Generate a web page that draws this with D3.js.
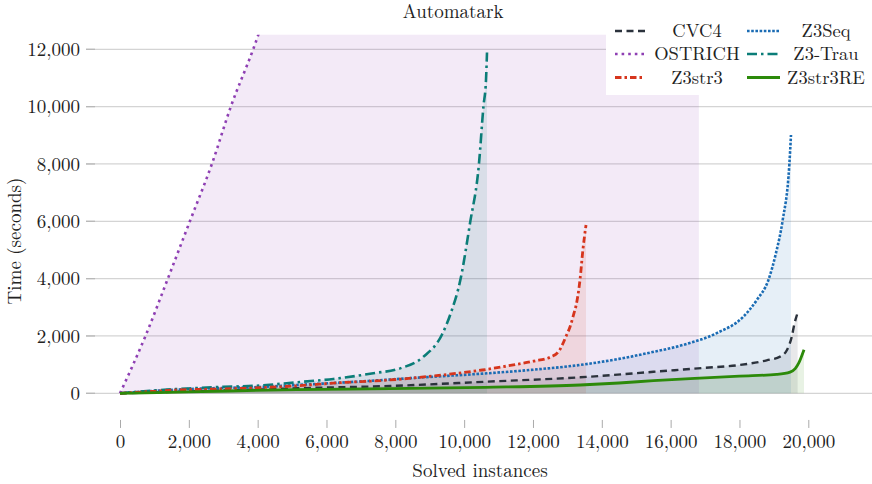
<!DOCTYPE html>
<html>
<head>
<meta charset="utf-8">
<script src="https://cdn.jsdelivr.net/npm/d3@7"></script>
<style>
  html, body { margin: 0; padding: 0; background: #fff; }
  svg { display: block; }
</style>
</head>
<body>
<svg id="chart" width="872" height="484"></svg>
<script>
// ---------- data ----------
const title = "Automatark";
const xLabel = "Solved instances";
const yLabel = "Time (seconds)";
const xTicks = [0, 2000, 4000, 6000, 8000, 10000, 12000, 14000, 16000, 18000, 20000];
const yTicks = [0, 2000, 4000, 6000, 8000, 10000, 12000];

const seriesNames = ["CVC4", "Z3Seq", "OSTRICH", "Z3-Trau", "Z3str3", "Z3str3RE"];

const cvc4 = [[0,0],[1500,50],[3000,100],[4260,140],[5130,174],[7850,255],[10650,405],[13370,558],[15500,750],[16900,880],[18020,990],[18790,1150],[19180,1280],[19380,1510],[19520,1980],[19600,2440],[19690,2810]];
const z3seq = [[0,0],[1350,110],[2500,170],[4260,230],[5130,290],[6880,405],[8810,558],[10460,680],[11910,813],[13370,990],[14500,1200],[15400,1420],[16370,1690],[17340,2100],[18110,2670],[18500,3250],[18840,3950],[19060,4890],[19250,6000],[19450,8000],[19497,9010]];
const ostrich = [[0,0],[740,2000],[1390,4000],[2030,6000],[2670,8000],[3220,10000],[3870,12000],[4500,14200],[6000,19000],[8000,25000],[10000,31000],[12000,37000],[14000,43000],[16000,49000],[16820,52000]];
const z3trau = [[0,0],[870,90],[2000,170],[3000,225],[3970,265],[4840,350],[5330,405],[6200,500],[7360,700],[8140,870],[8810,1270],[9350,2035],[9610,2790],[9900,4010],[10170,5930],[10430,8000],[10560,10000],[10635,10930],[10664,11890]];
const z3str3 = [[0,0],[1000,70],[1650,115],[2500,140],[3580,175],[5050,255],[6390,370],[7850,465],[9100,605],[10530,813],[11430,990],[12010,1120],[12540,1280],[12740,1450],[12980,2040],[13080,2330],[13190,2790],[13250,3050],[13370,4000],[13450,5000],[13541,5870]];
const z3str3re = [[0,0],[2000,50],[5130,130],[7850,160],[10600,209],[13370,290],[14500,360],[15500,440],[16850,530],[18000,600],[19080,660],[19470,740],[19620,860],[19720,1050],[19875,1520]];

const seriesData = [cvc4, z3seq, ostrich, z3trau, z3str3, z3str3re];
const colors = ["#2b323c", "#1b6cb4", "#8e3fb3", "#0b7d78", "#d6351d", "#2c8a0a"];
const dashes = ["7 4.5", "2.6 1.6", "2.6 4", "10 4 2.5 4", "6.5 3 2.5 3", null];
const widths = [2.4, 2.6, 2.6, 2.6, 2.8, 2.8];

// ---------- layout ----------
const FONT = "'Latin Modern Roman', 'Liberation Serif', serif";
const FS = 19;
const svg = d3.select("#chart");
const x = d3.scaleLinear().domain([0, 20000]).range([120, 808.3]);
const y = d3.scaleLinear().domain([0, 12000]).range([393.3, 49.3]);
const plotTop = y(12510), plotBottom = y(-1000), plotLeft = 86, plotRight = 872;

svg.append("defs").append("clipPath").attr("id", "clip")
  .append("rect").attr("x", 95).attr("y", plotTop).attr("width", plotRight - 95).attr("height", plotBottom - plotTop);

// grid lines (y)
const grid = svg.append("g");
yTicks.forEach(t => {
  grid.append("line").attr("x1", plotLeft).attr("x2", plotRight)
    .attr("y1", y(t)).attr("y2", y(t))
    .attr("stroke", "#d4d4d4").attr("stroke-width", 1.3);
  grid.append("line").attr("x1", plotLeft).attr("x2", 95)
    .attr("y1", y(t)).attr("y2", y(t))
    .attr("stroke", "#b8b8b8").attr("stroke-width", 1.3);
});

// y tick labels
const yAxis = d3.axisLeft(y).tickValues(yTicks).tickFormat(d3.format(",")).tickSize(0).tickPadding(0);
const yg = svg.append("g").attr("transform", "translate(80,0)").call(yAxis);
yg.attr("font-family", null).attr("font-size", null);
yg.select(".domain").remove();
yg.selectAll("text").attr("font-size", FS).attr("fill", "#222")
  .style("font-family", FONT).attr("dy", "0.33em");

// x ticks
const xAxis = d3.axisBottom(x).tickValues(xTicks).tickFormat(d3.format(",")).tickSize(8).tickPadding(7);
const xg = svg.append("g").attr("transform", `translate(0,${plotBottom - 2})`).call(xAxis);
xg.attr("font-family", null).attr("font-size", null);
xg.select(".domain").remove();
xg.selectAll("line").attr("stroke", "#aaa").attr("stroke-width", 1);
xg.selectAll("text").attr("font-size", FS).attr("fill", "#222")
  .style("font-family", FONT);

// fills and lines
const plot = svg.append("g").attr("clip-path", "url(#clip)");
const area = d3.area().x(d => x(d[0])).y0(y(0)).y1(d => y(d[1])).curve(d3.curveMonotoneX);
const line = d3.line().x(d => x(d[0])).y(d => y(d[1])).curve(d3.curveMonotoneX);

seriesData.forEach((data, i) => {
  plot.append("path").datum(data).attr("d", area)
    .attr("fill", colors[i]).attr("fill-opacity", 0.11).attr("stroke", "none");
});
seriesData.forEach((data, i) => {
  plot.append("path").datum(data).attr("d", line)
    .attr("fill", "none").attr("stroke", colors[i]).attr("stroke-width", widths[i])
    .attr("stroke-dasharray", dashes[i]);
});

// title & axis labels
svg.append("text").attr("x", 453).attr("y", 18).attr("text-anchor", "middle")
  .attr("font-size", FS).attr("fill", "#222").style("font-family", FONT).text(title);
svg.append("text").attr("x", 480).attr("y", 477).attr("text-anchor", "middle")
  .attr("font-size", FS).attr("fill", "#222").style("font-family", FONT).text(xLabel);
svg.append("text").attr("transform", "translate(21,241) rotate(-90)").attr("text-anchor", "middle")
  .attr("font-size", FS).attr("fill", "#222").style("font-family", FONT).text(yLabel);

// legend
const lg = svg.append("g");
lg.append("rect").attr("x", 606).attr("y", 12).attr("width", 266).attr("height", 83).attr("fill", "#fff");
const colX = [[615, 697], [747, 826]];
const rowY = [31, 54, 77.5];
seriesNames.forEach((name, i) => {
  const c = i % 2, r = Math.floor(i / 2);
  lg.append("line").attr("x1", colX[c][0]).attr("x2", colX[c][0] + (c === 0 ? 30 : 33))
    .attr("y1", rowY[r]).attr("y2", rowY[r])
    .attr("stroke", colors[i]).attr("stroke-width", widths[i]).attr("stroke-dasharray", dashes[i]);
  lg.append("text").attr("x", colX[c][1]).attr("y", rowY[r]).attr("dy", "0.33em")
    .attr("text-anchor", "middle").attr("font-size", 18.5).attr("fill", "#222")
    .style("font-family", FONT).text(name);
});
</script>
</body>
</html>
